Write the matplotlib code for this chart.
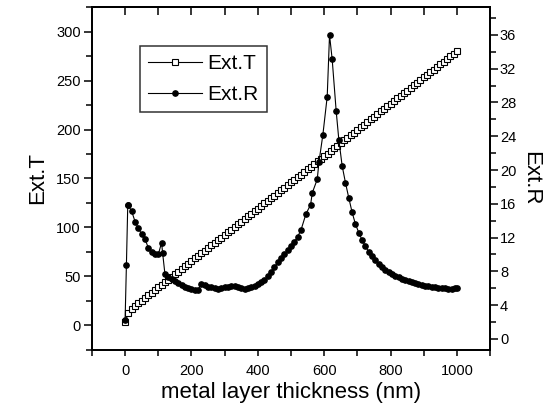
import matplotlib
matplotlib.use('Agg')
import matplotlib.pyplot as plt
from matplotlib.ticker import MultipleLocator

plt.rcParams['font.family'] = ['Liberation Sans', 'DejaVu Sans']

# Ext.T (left axis), one point every 10 nm
thick_t = list(range(0, 1001, 10))
ext_t = [3.0, 13.0, 17.0, 20.0, 22.7, 25.4, 28.1, 30.8, 33.4, 36.1,
         38.8, 41.5, 44.2, 46.8, 49.5, 52.2, 54.9, 57.6, 60.2, 62.9,
         65.6, 68.3, 71.0, 73.6, 76.3, 79.0, 81.7, 84.4, 87.0, 89.7,
         92.4, 95.1, 97.8, 100.4, 103.1, 105.8, 108.5, 111.2, 113.8, 116.5,
         119.2, 121.9, 124.6, 127.2, 129.9, 132.6, 135.3, 138.0, 140.6, 143.3,
         146.0, 148.7, 151.4, 154.0, 156.7, 159.4, 162.1, 164.8, 167.4, 170.1,
         172.8, 175.5, 178.2, 180.8, 183.5, 186.2, 188.9, 191.6, 194.2, 196.9,
         199.6, 202.3, 205.0, 207.6, 210.3, 213.0, 215.7, 218.4, 221.0, 223.7,
         226.4, 229.1, 231.8, 234.4, 237.1, 239.8, 242.5, 245.2, 247.8, 250.5,
         253.2, 255.9, 258.6, 261.2, 263.9, 266.6, 269.3, 272.0, 274.6, 277.3,
         280.0]

# Ext.R (right axis)
thick_r = [0, 4, 8, 10, 20, 30, 40, 50, 60, 70, 80, 90, 100, 110, 113, 120,
           130, 140, 150, 160, 170, 180, 190, 200, 210, 220, 230, 240, 250,
           260, 270, 280, 290, 300, 310, 320, 330, 340, 350, 360, 370, 380,
           390, 400, 410, 420, 430, 440, 450, 460, 470, 480, 490, 500, 510,
           520, 530, 545, 559, 564, 579, 584, 596, 609, 616, 624, 636, 644,
           654, 664, 674, 684, 694, 704, 714, 724, 734, 744, 754, 764, 774,
           784, 794, 804, 814, 824, 834, 844, 854, 864, 874, 884, 894, 904,
           914, 924, 934, 944, 954, 964, 974, 984, 994, 1000]
ext_r = [2.2, 8.8, 15.8, 15.8, 15.1, 13.9, 13.1, 12.4, 11.8, 10.8, 10.3, 10.1,
         10.0, 11.4, 10.2, 7.7, 7.3, 7.1, 6.8, 6.6, 6.4, 6.2, 6.05, 5.9, 5.75,
         5.8, 6.5, 6.4, 6.2, 6.1, 6.05, 5.95, 6.0, 6.1, 6.2, 6.3, 6.3, 6.2,
         6.0, 5.9, 6.05, 6.2, 6.3, 6.5, 6.7, 7.0, 7.4, 7.9, 8.5, 9.1, 9.6,
         10.0, 10.5, 11.0, 11.5, 12.1, 12.9, 14.8, 15.9, 17.3, 18.9, 20.9,
         24.2, 28.7, 36.0, 33.1, 27.0, 23.6, 20.5, 18.5, 16.7, 15.0, 13.6,
         12.6, 11.7, 11.0, 10.3, 9.8, 9.3, 8.9, 8.5, 8.2, 7.9, 7.7, 7.5, 7.3,
         7.1, 6.95, 6.8, 6.7, 6.6, 6.5, 6.4, 6.3, 6.25, 6.2, 6.1, 6.05, 6.0,
         6.0, 5.95, 5.95, 6.0, 6.0]

fig = plt.figure(figsize=(5.57, 4.17), dpi=100)
ax = fig.add_axes([0.165, 0.161, 0.715, 0.822])
ax2 = ax.twinx()

l1, = ax.plot(thick_t, ext_t, color='black', lw=0.8, marker='s', ms=3.8,
              mfc='white', mec='black', mew=0.8, label='Ext.T')
l2, = ax2.plot(thick_r, ext_r, color='black', lw=0.8, marker='o', ms=3.8,
               mfc='black', mec='black', label='Ext.R')

ax.set_xlim(-100, 1100)
ax.set_ylim(-25, 325)
ax2.set_ylim(-1.3, 39.3)

ax.xaxis.set_major_locator(MultipleLocator(200))
ax.xaxis.set_minor_locator(MultipleLocator(100))
ax.yaxis.set_major_locator(MultipleLocator(50))
ax.yaxis.set_minor_locator(MultipleLocator(25))
ax2.yaxis.set_major_locator(MultipleLocator(4))
ax2.yaxis.set_minor_locator(MultipleLocator(2))

for a in (ax, ax2):
    for s in a.spines.values():
        s.set_linewidth(1.3)

ax.tick_params(axis='both', which='major', direction='out', length=6, width=1.1,
               labelsize=10.5, pad=2)
ax.tick_params(axis='both', which='minor', direction='out', length=4, width=1.1)
ax.tick_params(axis='x', which='both', length=4, pad=6)
ax2.tick_params(axis='y', which='major', direction='out', length=6, width=1.1,
                labelsize=10.5, pad=1)
ax2.tick_params(axis='y', which='minor', direction='out', length=4, width=1.1)

top = ax.secondary_xaxis('top')
top.set_xticks(range(0, 1001, 100))
top.tick_params(direction='in', length=6, width=1.1, labeltop=False)
top.spines['top'].set_linewidth(1.3)

ax.set_xlabel('metal layer thickness (nm)', fontsize=16, labelpad=3)
ax.set_ylabel('Ext.T', fontsize=16, labelpad=6)
ax2.set_ylabel('Ext.R', fontsize=16, rotation=270, labelpad=18)

leg = ax.legend(handles=[l1, l2], loc='upper left', bbox_to_anchor=(0.12, 0.886),
                borderaxespad=0, fancybox=False, frameon=True, fontsize=15,
                handlelength=2.6, handletextpad=0.25, labelspacing=0.55,
                borderpad=0.4)
leg.get_frame().set_edgecolor('black')
leg.get_frame().set_linewidth(1.1)

fig.savefig('out.png', dpi=100)
